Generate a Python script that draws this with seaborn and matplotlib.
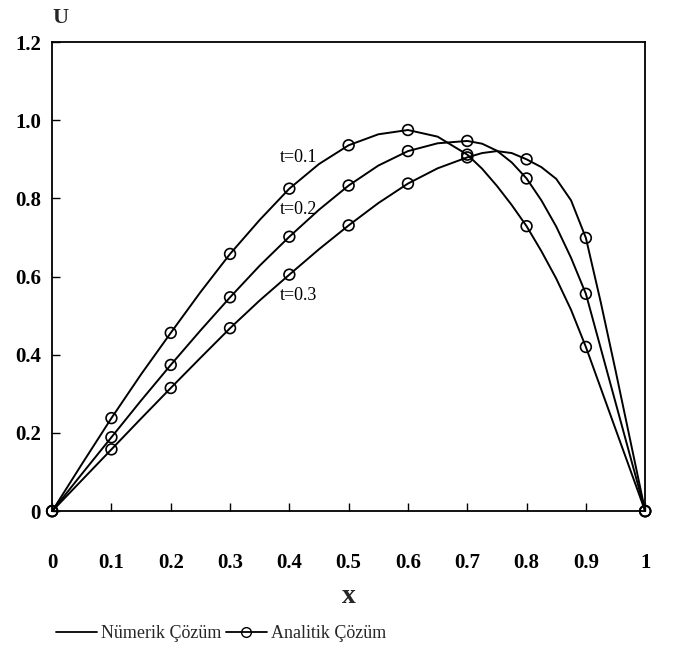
import numpy as np
import pandas as pd
import matplotlib
matplotlib.use("Agg")
import matplotlib.pyplot as plt
from matplotlib.lines import Line2D
import seaborn as sns

# Numerical solution (finer sampling near the steep right-hand side)
x_num = [0.0, 0.05, 0.1, 0.15, 0.2, 0.25, 0.3, 0.35, 0.4, 0.45, 0.5,
         0.55, 0.6, 0.65, 0.7, 0.725, 0.75, 0.775, 0.8, 0.825, 0.85,
         0.875, 0.9, 0.925, 0.95, 0.975, 1.0]
u_num_t01 = [0.0, 0.120, 0.238, 0.350, 0.456, 0.560, 0.658, 0.745, 0.825, 0.888, 0.936,
             0.964, 0.975, 0.958, 0.912, 0.876, 0.832, 0.783, 0.729, 0.665, 0.595,
             0.515, 0.420, 0.315, 0.210, 0.105, 0.0]
u_num_t02 = [0.0, 0.095, 0.189, 0.283, 0.374, 0.462, 0.547, 0.628, 0.702, 0.771, 0.833,
             0.884, 0.921, 0.941, 0.947, 0.940, 0.922, 0.892, 0.851, 0.795, 0.728,
             0.648, 0.556, 0.417, 0.278, 0.139, 0.0]
u_num_t03 = [0.0, 0.079, 0.158, 0.237, 0.315, 0.392, 0.468, 0.539, 0.605, 0.670, 0.731,
             0.788, 0.838, 0.877, 0.905, 0.916, 0.921, 0.916, 0.900, 0.880, 0.850,
             0.795, 0.699, 0.535, 0.360, 0.180, 0.0]

# Analytical solution at the grid nodes
x_an = [0.0, 0.1, 0.2, 0.3, 0.4, 0.5, 0.6, 0.7, 0.8, 0.9, 1.0]
u_an_t01 = [0.0, 0.238, 0.456, 0.658, 0.825, 0.936, 0.975, 0.912, 0.729, 0.420, 0.0]
u_an_t02 = [0.0, 0.189, 0.374, 0.547, 0.702, 0.833, 0.921, 0.947, 0.851, 0.556, 0.0]
u_an_t03 = [0.0, 0.158, 0.315, 0.468, 0.605, 0.731, 0.838, 0.905, 0.900, 0.699, 0.0]

times = ["t=0.1", "t=0.2", "t=0.3"]
x_ticks = [0, 0.1, 0.2, 0.3, 0.4, 0.5, 0.6, 0.7, 0.8, 0.9, 1.0]
x_ticklabels = ["0", "0.1", "0.2", "0.3", "0.4", "0.5", "0.6", "0.7", "0.8", "0.9", "1"]
y_ticks = [0, 0.2, 0.4, 0.6, 0.8, 1.0, 1.2]
y_ticklabels = ["0", "0.2", "0.4", "0.6", "0.8", "1.0", "1.2"]
label_pos = [(0.416, 0.905), (0.416, 0.772), (0.416, 0.552)]

num = pd.DataFrame({
    "x": x_num * 3,
    "u": u_num_t01 + u_num_t02 + u_num_t03,
    "t": sum([[t] * len(x_num) for t in times], []),
})
an = pd.DataFrame({
    "x": x_an * 3,
    "u": u_an_t01 + u_an_t02 + u_an_t03,
    "t": sum([[t] * len(x_an) for t in times], []),
})

sns.set_theme(style="ticks")
plt.rcParams["font.family"] = ["Liberation Serif", "DejaVu Serif"]

fig = plt.figure(figsize=(6.77, 6.57), dpi=100)
ax = fig.add_axes([0.077, 0.222, 0.876, 0.714])

sns.lineplot(data=num, x="x", y="u", hue="t", palette=["black"] * 3,
             linewidth=1.4, legend=False, ax=ax, estimator=None, sort=False)
sns.scatterplot(data=an, x="x", y="u", marker="o", s=60, facecolor="none",
                edgecolor="black", linewidth=1.2, legend=False, ax=ax,
                clip_on=False, zorder=3)

for t, (lx, ly) in zip(times, label_pos):
    ax.text(lx, ly, t, ha="center", va="center", fontsize=13, color="black")

ax.set_xlim(0, 1.0)
ax.set_ylim(0, 1.2)
ax.set_xticks(x_ticks)
ax.set_xticklabels(x_ticklabels, fontsize=15, fontweight="bold")
ax.set_yticks(y_ticks)
ax.set_yticklabels(y_ticklabels, fontsize=15, fontweight="bold")
ax.tick_params(axis="x", direction="in", length=6, width=1.0, pad=30, colors="black")
ax.tick_params(axis="y", direction="in", length=6, width=1.0, pad=8, colors="black")
for sp in ax.spines.values():
    sp.set_linewidth(1.3)
    sp.set_color("black")

ax.set_xlabel("x", fontsize=20, fontweight="bold", labelpad=8)
ax.set_ylabel("")
fig.text(0.089, 0.972, "U", fontsize=16, fontweight="bold", ha="center", va="center")

handles = [
    Line2D([0], [0], color="black", linewidth=1.3),
    Line2D([0], [0], color="black", linewidth=1.3, marker="o",
           markerfacecolor="none", markeredgecolor="black", markersize=7),
]
fig.legend(handles, ["Nümerik Çözüm", "Analitik Çözüm"], loc="center left",
           bbox_to_anchor=(0.058, 0.036), ncol=2, frameon=False, fontsize=13,
           handlelength=2.3, handletextpad=0.2, columnspacing=0.25)

fig.savefig("out.png", dpi=100, facecolor="white")
